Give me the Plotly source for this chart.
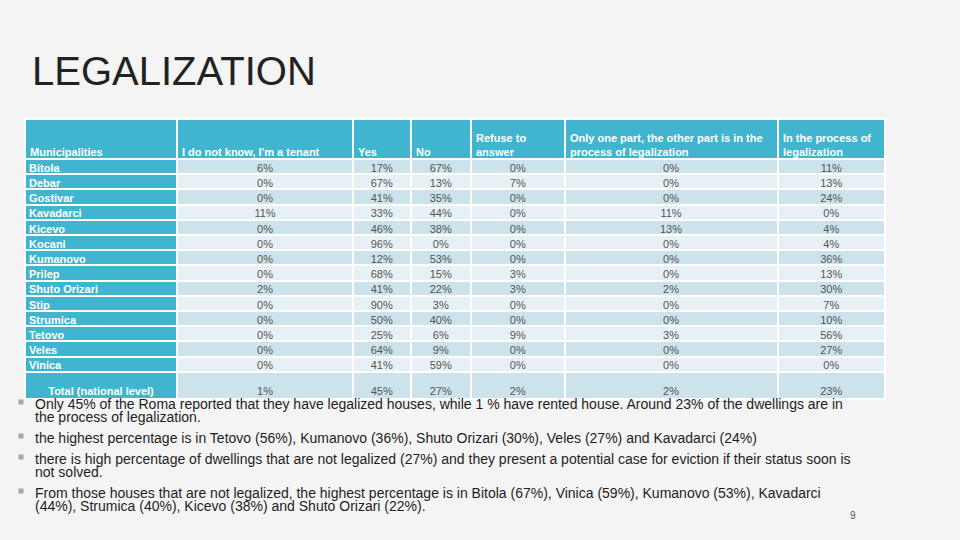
import plotly.graph_objects as go

# ---------------- data ----------------
title = "LEGALIZATION"
headers = ["Municipalities", "I do not know, I'm a tenant", "Yes", "No",
           "Refuse to<br>answer",
           "Only one part, the other part is in the<br>process of legalization",
           "In the process of<br>legalization"]
municipalities = ["Bitola", "Debar", "Gostivar", "Kavadarci", "Kicevo", "Kocani",
                  "Kumanovo", "Prilep", "Shuto Orizari", "Stip", "Strumica",
                  "Tetovo", "Veles", "Vinica"]
tenant = [6, 0, 0, 11, 0, 0, 0, 0, 2, 0, 0, 0, 0, 0]
yes = [17, 67, 41, 33, 46, 96, 12, 68, 41, 90, 50, 25, 64, 41]
no = [67, 13, 35, 44, 38, 0, 53, 15, 22, 3, 40, 6, 9, 59]
refuse = [0, 7, 0, 0, 0, 0, 0, 3, 3, 0, 0, 9, 0, 0]
one_part = [0, 0, 0, 11, 13, 0, 0, 0, 2, 0, 0, 3, 0, 0]
in_process = [11, 13, 24, 0, 4, 4, 36, 13, 30, 7, 10, 56, 27, 0]
total_label = "Total (national level)"
total = [1, 45, 27, 2, 2, 23]

bullets = [
    ["Only 45% of the Roma reported that they have legalized houses, while 1 % have rented house. Around 23% of the dwellings are in",
     "the process of legalization."],
    ["the highest percentage is in Tetovo (56%), Kumanovo (36%), Shuto Orizari (30%), Veles (27%) and Kavadarci (24%)"],
    ["there is high percentage of dwellings that are not legalized (27%) and they present a potential case for eviction if their status soon is",
     "not solved."],
    ["From those houses that are not legalized, the highest percentage is in Bitola (67%), Vinica (59%), Kumanovo (53%), Kavadarci",
     "(44%), Strumica (40%), Kicevo (38%) and Shuto Orizari (22%)."],
]
page_number = "9"

# ---------------- layout constants ----------------
W, H = 960, 540
col_widths = [152, 176, 57.5, 60.5, 93.5, 213, 107.5]
table_left = 25
table_top = 119
header_h = 40
row_h = 15.2
total_h = 27.2
text_shift = 2.5

TEAL = "#41B5CF"
DARK = "#CCE3EB"
LIGHT = "#E7F1F5"
BG = "#F4F4F4"
FONT = "Liberation Sans"

x_edges = [table_left]
for w in col_widths:
    x_edges.append(x_edges[-1] + w)
n = len(municipalities)
y_edges = [table_top, table_top + header_h]
for _ in range(n):
    y_edges.append(y_edges[-1] + row_h)
y_edges.append(y_edges[-1] + total_h)

x_mid = [(x_edges[i] + x_edges[i + 1]) / 2 for i in range(len(col_widths))]
y_mid = [(y_edges[i] + y_edges[i + 1]) / 2 + text_shift for i in range(len(y_edges) - 1)]
total_text_y = y_edges[-1] - 9 + text_shift

columns = [tenant, yes, no, refuse, one_part, in_process]

# colour codes: 0 teal, 1 dark stripe, 2 light stripe
z = [[0] * len(col_widths)]
for r in range(n + 1):
    stripe = 1 if r % 2 == 0 else 2
    z.append([0] + [stripe] * (len(col_widths) - 1))

fig = go.Figure()

fig.add_shape(type="rect", xref="x", yref="y", layer="below",
              x0=x_edges[0] - 1, x1=x_edges[-1] + 1, y0=y_edges[0] - 1, y1=y_edges[-1] + 1,
              fillcolor="white", line=dict(width=0))

fig.add_trace(go.Heatmap(
    x=x_edges, y=y_edges, z=z, zmin=0, zmax=2,
    colorscale=[[0, TEAL], [0.5, DARK], [1, LIGHT]],
    showscale=False, xgap=2, ygap=2, hoverinfo="skip"))

# numeric values
for ci, vals in enumerate(columns):
    xs = [x_mid[ci + 1]] * (n + 1)
    ys = y_mid[1:1 + n] + [total_text_y]
    txt = [f"{v}%" for v in vals] + [f"{total[ci]}%"]
    fig.add_trace(go.Scatter(x=xs, y=ys, mode="text", text=txt,
                             textposition="middle center",
                             textfont=dict(family=FONT, size=11, color="#555555"),
                             hoverinfo="skip", showlegend=False))

# municipality names
fig.add_trace(go.Scatter(x=[x_edges[0] + 4] * n, y=y_mid[1:1 + n], mode="text",
                         text=municipalities, textposition="middle right",
                         textfont=dict(family=FONT, size=11, color="white", weight="bold"),
                         hoverinfo="skip", showlegend=False))
fig.add_trace(go.Scatter(x=[x_mid[0]], y=[total_text_y], mode="text",
                         text=[total_label], textposition="middle center",
                         textfont=dict(family=FONT, size=11, color="white", weight="bold"),
                         hoverinfo="skip", showlegend=False))

annotations = []
for ci, htxt in enumerate(headers):
    annotations.append(dict(x=x_edges[ci] + 3, y=y_edges[1] + 0.5, xref="x", yref="y",
                            text=htxt, showarrow=False, xanchor="left", yanchor="bottom",
                            align="left",
                            font=dict(family=FONT, size=11, color="white", weight="bold")))

# title
annotations.append(dict(x=30, y=71, xref="x", yref="y", text=title, showarrow=False,
                        xanchor="left", yanchor="middle",
                        font=dict(family=FONT, size=40, color="#222222")))

# bullets
bullet_y = [404, 438, 459, 493]
line_gap = 12.5
for b, lines in enumerate(bullets):
    y0 = bullet_y[b]
    for li, line in enumerate(lines):
        annotations.append(dict(x=33, y=y0 + li * line_gap, xref="x", yref="y", text=line,
                                showarrow=False, xanchor="left", yanchor="middle",
                                font=dict(family=FONT, size=14, color="#1E1E1E")))
fig.add_trace(go.Scatter(x=[21] * len(bullet_y), y=[y - 2 for y in bullet_y], mode="markers",
                         marker=dict(symbol="square", size=5, color="#A8A8A8"),
                         hoverinfo="skip", showlegend=False))

annotations.append(dict(x=853, y=515, xref="x", yref="y", text=page_number, showarrow=False,
                        xanchor="center", yanchor="middle",
                        font=dict(family=FONT, size=10, color="#555555")))

fig.update_layout(
    width=W, height=H, margin=dict(l=0, r=0, t=0, b=0),
    paper_bgcolor=BG, plot_bgcolor=BG,
    xaxis=dict(range=[0, W], visible=False, domain=[0, 1], fixedrange=True),
    yaxis=dict(range=[H, 0], visible=False, domain=[0, 1], fixedrange=True),
    annotations=annotations, showlegend=False,
)

fig.write_html("out.html",
               config={"displayModeBar": False},
               post_script="document.body.style.margin='0';document.body.style.overflow='hidden';")
